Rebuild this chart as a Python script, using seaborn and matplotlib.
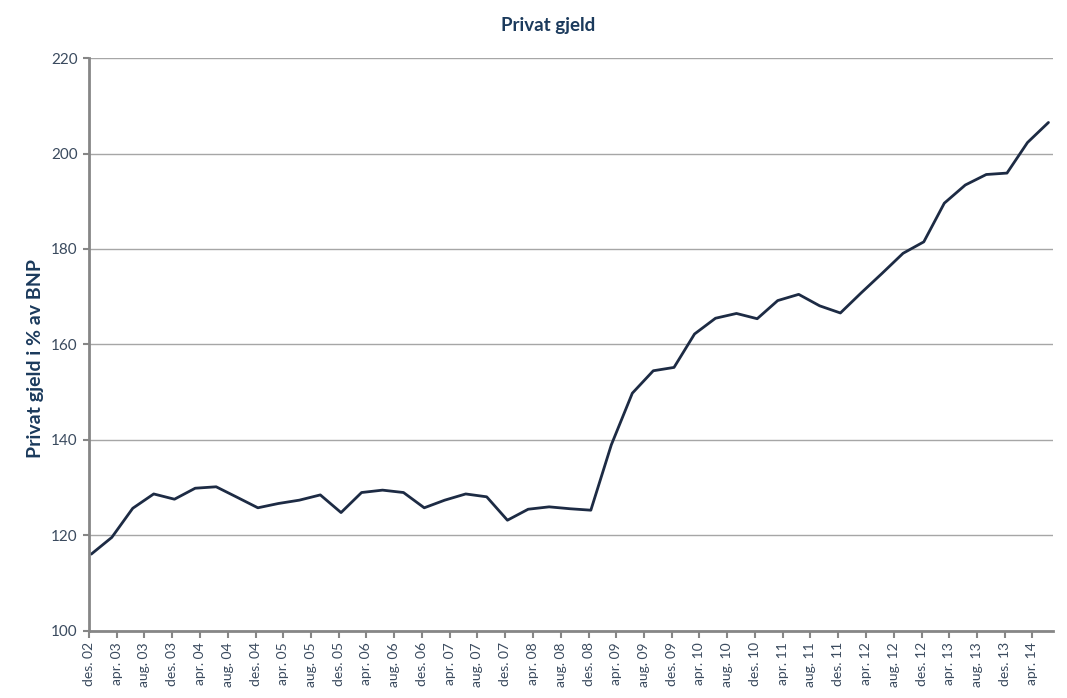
import numpy as np
import pandas as pd
import matplotlib
matplotlib.use("Agg")
import matplotlib.pyplot as plt
import seaborn as sns

# ---- data ----
n_quarters = 47
gjeld = [116.1, 119.6, 125.7, 128.7, 127.6, 129.9, 130.2, 128.0, 125.8, 126.7,
         127.4, 128.5, 124.8, 129.0, 129.5, 129.0, 125.8, 127.4, 128.7, 128.1,
         123.2, 125.5, 126.0, 125.6, 125.3, 139.0, 149.8, 154.5, 155.2, 162.2,
         165.5, 166.5, 165.4, 169.2, 170.5, 168.1, 166.6, 170.8, 174.9, 179.1,
         181.5, 189.6, 193.4, 195.6, 195.9, 202.3, 206.5]
tick_labels = ["des. 02", "apr. 03", "aug. 03", "des. 03", "apr. 04", "aug. 04",
               "des. 04", "apr. 05", "aug. 05", "des. 05", "apr. 06", "aug. 06",
               "des. 06", "apr. 07", "aug. 07", "des. 07", "apr. 08", "aug. 08",
               "des. 08", "apr. 09", "aug. 09", "des. 09", "apr. 10", "aug. 10",
               "des. 10", "apr. 11", "aug. 11", "des. 11", "apr. 12", "aug. 12",
               "des. 12", "apr. 13", "aug. 13", "des. 13", "apr. 14"]
y_ticks = [100, 120, 140, 160, 180, 200, 220]
title = "Privat gjeld"
ylabel = "Privat gjeld i % av BNP"

dates = pd.date_range("2002-12-01", periods=n_quarters, freq="3MS") + pd.Timedelta(days=10)
df = pd.DataFrame({"dato": dates, "gjeld": gjeld})
tick_dates = pd.date_range("2002-12-01", periods=len(tick_labels), freq="4MS")

sns.set_theme(style="white")
plt.rcParams["font.family"] = ["Lato", "DejaVu Sans"]

navy = "#1B3A5C"
line_col = "#1D2B44"
axis_gray = "#868686"
text_col = "#3A4A5E"

fig = plt.figure(figsize=(10.67, 6.98), dpi=100)
ax = fig.add_axes([0.0834, 0.096, 0.9035, 0.8209])

sns.lineplot(data=df, x="dato", y="gjeld", ax=ax, color=line_col, linewidth=2.0)

ax.set_xlim(pd.Timestamp("2002-12-01"), pd.Timestamp("2014-07-01"))
ax.set_ylim(100, 220)
ax.set_yticks(y_ticks)
ax.set_yticklabels([str(v) for v in y_ticks], fontsize=11, color=text_col)
ax.set_xticks(tick_dates)
ax.set_xticklabels(tick_labels, rotation=90, fontsize=10, color=text_col)

ax.grid(axis="y", color="#A6A6A6", linewidth=1.0)
ax.grid(axis="x", visible=False)
for s in ["top", "right"]:
    ax.spines[s].set_visible(False)
for s in ["left", "bottom"]:
    ax.spines[s].set_color(axis_gray)
    ax.spines[s].set_linewidth(2.0)

ax.tick_params(axis="x", which="major", direction="out", length=5, width=1.5,
               color=axis_gray, pad=3, bottom=True)
ax.tick_params(axis="y", which="major", direction="out", length=4, width=1.5,
               color=axis_gray, pad=4, left=True)

ax.set_xlabel("")
ax.set_ylabel(ylabel, fontsize=14, fontweight="bold", color=navy)
ax.yaxis.set_label_coords(-0.047, 0.475)
fig.text(0.514, 0.963, title, ha="center", va="center", fontsize=13.5,
         fontweight="bold", color=navy)

fig.savefig("out.png", dpi=100, facecolor="white")
